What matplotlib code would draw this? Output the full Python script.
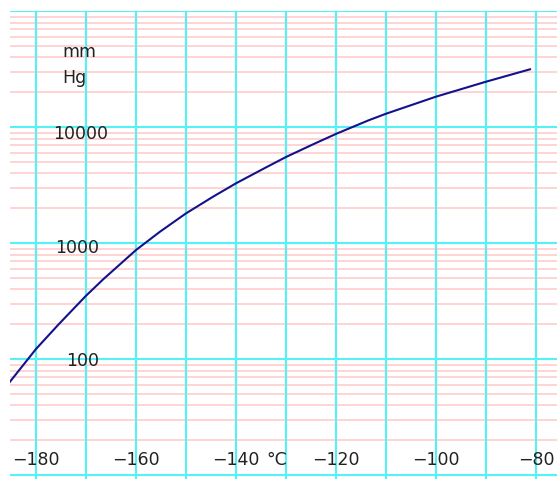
import matplotlib
matplotlib.use("Agg")
import matplotlib.pyplot as plt
import numpy as np

# Data (temperature in °C, vapour pressure in mm Hg)
temps = [-185.2, -180, -175.5, -170, -166.5, -160, -155.2, -150, -144.5, -140,
         -134.5, -130, -124.5, -120, -113.5, -110, -100, -90, -81.2]
pressures = [64.1, 122.7, 199.5, 353, 492, 875, 1259, 1811, 2535, 3289,
             4395, 5546, 7161, 8770, 11480, 13090, 18370, 24720, 31620]

x_gridlines = [-180, -170, -160, -150, -140, -130, -120, -110, -100, -90, -80]
x_labels = [-180, -160, -140, -120, -100, -80]
decades = [10, 100, 1000, 10000, 100000]
y_labels = ["100", "1000", "10000"]
unit_top = "mm"
unit_bottom = "Hg"
x_unit = "°C"

CYAN = "#55f2f5"
PINK = "#ffc8c8"
NAVY = "#12128c"
TXT = "#222222"

fig = plt.figure(figsize=(5.57, 4.79), dpi=100)
ax = fig.add_axes([10/557, 0.0, 547/557, 1 - 11.3/479])
ax.set_yscale("log")
ax.set_xlim(-185.2, -75.8)
ax.set_ylim(9.29, 1e5)

for s in ax.spines.values():
    s.set_visible(False)
ax.set_xticks([])
ax.set_yticks([])
ax.minorticks_off()
ax.tick_params(which="both", length=0, labelleft=False, labelbottom=False)

# minor pink lines
for d in decades[:-1]:
    for m in range(2, 10):
        ax.axhline(d * m, color=PINK, lw=1.1, zorder=1)
for d in decades:
    ax.axhline(d, color=CYAN, lw=1.5, zorder=2)
for xv in x_gridlines:
    ax.axvline(xv, color=CYAN, lw=1.5, zorder=2)

ax.plot(temps, pressures, color=NAVY, lw=1.5, zorder=4, solid_joinstyle="round")

fs = 12.5
# y labels
ax.text(-171.0, 8750, y_labels[2], ha="center", va="center", fontsize=fs, color=TXT, zorder=5)
ax.text(-171.8, 910, y_labels[1], ha="center", va="center", fontsize=fs, color=TXT, zorder=5)
ax.text(-170.6, 96.6, y_labels[0], ha="center", va="center", fontsize=fs, color=TXT, zorder=5)
ax.text(-174.8, 44570, unit_top, ha="left", va="center", fontsize=fs, color=TXT, zorder=5)
ax.text(-174.8, 26600, unit_bottom, ha="left", va="center", fontsize=fs, color=TXT, zorder=5)

# x labels
for xv in x_labels:
    ax.text(xv, 13.55, "\u2212%d" % abs(xv), ha="center", va="center", fontsize=fs, color=TXT, zorder=5)
ax.text(-134.0, 13.55, x_unit, ha="left", va="center", fontsize=fs, color=TXT, zorder=5)

fig.savefig("out.png", dpi=100)
